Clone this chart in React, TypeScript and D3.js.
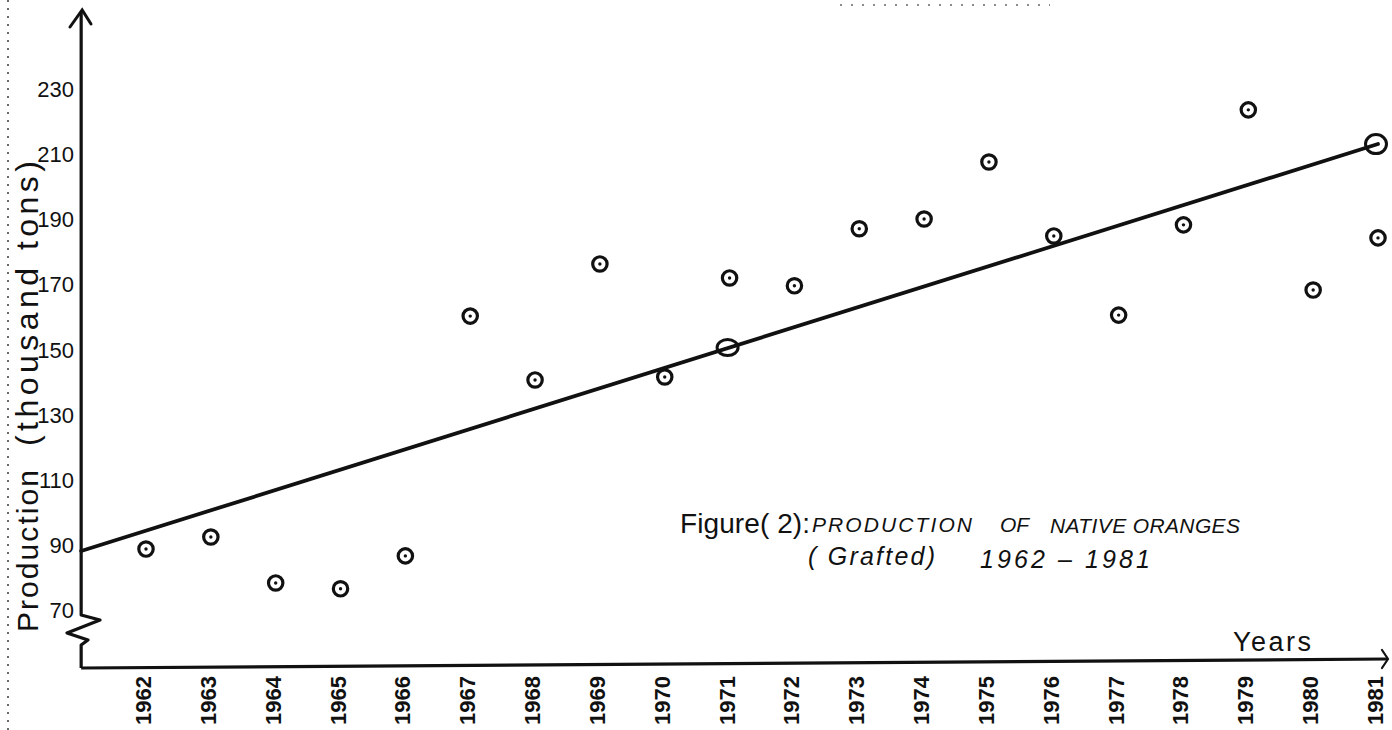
import React from 'react';
import * as d3 from 'd3';

// production of native oranges (grafted), thousand tons
const years = [1962, 1963, 1964, 1965, 1966, 1967, 1968, 1969, 1970, 1971,
  1972, 1973, 1974, 1975, 1976, 1977, 1978, 1979, 1980, 1981];
const production = [88.8, 92.5, 78.4, 76.6, 86.7, 160.3, 140.7, 176.3, 141.6, 172.0,
  169.6, 187.1, 190.1, 207.6, 184.9, 160.6, 188.3, 223.6, 168.3, 184.3];
const yTicks = [70, 90, 110, 130, 150, 170, 190, 210, 230];

// fitted trend line and the two points marked on it
const trendYears = [1961, 1981];
const trendValues = [88.2, 213.1];
const markedYears = [1971, 1981];

const W = 1392, H = 730;
const ink = '#111';
const hand = '"Liberation Sans", "DejaVu Sans", sans-serif';

export default function App() {
  const x = d3.scaleLinear().domain([1962, 1981]).range([146, 1378]);
  const y = d3.scaleLinear().domain([70, 230]).range([610.3, 89]);

  const trendAt = (yr: number) =>
    trendValues[0] + (trendValues[1] - trendValues[0]) * (yr - trendYears[0]) / (trendYears[1] - trendYears[0]);

  const trendLine = d3.line<number>()
    .x(d => x(d))
    .y((d, i) => y(trendValues[i]))(trendYears) as string;

  const x0 = x(trendYears[0]);
  const axisBottom = 668;

  return (
    <svg width={W} height={H} style={{ position: 'absolute', left: 0, top: 0, background: '#fff' }}>
      <rect width={W} height={H} fill="#fff" />

      {/* page edge, photocopy dots */}
      <line x1={8} y1={0} x2={8} y2={H} stroke="#444" strokeWidth={1.6} strokeDasharray="2 6" />
      <line x1={840} y1={5} x2={1050} y2={5} stroke="#666" strokeWidth={1.4} strokeDasharray="2 9" />

      {/* y axis with arrow and break */}
      <path
        d={`M${x0},12 L${x0},615 L100,620 L67,633 L88,640 L${x0},645 L${x0},${axisBottom}`}
        fill="none" stroke={ink} strokeWidth={3.2} strokeLinejoin="round" />
      <path d={`M70,27 L${x0 + 1},10 L91,24`} fill="none" stroke={ink} strokeWidth={3} strokeLinecap="round" />

      {/* x axis with arrow */}
      <path d={`M${x0},${axisBottom} L1387,659`} fill="none" stroke={ink} strokeWidth={3.2} />
      <path d="M1382,650 L1388,659 L1382,668" fill="none" stroke={ink} strokeWidth={2.2} strokeLinecap="round" />

      {/* y tick labels */}
      {yTicks.map(t => (
        <text key={t} x={74} y={y(t) + 8} textAnchor="end" fontFamily={hand} fontSize={22} fill={ink}>{t}</text>
      ))}

      {/* year labels */}
      {years.map(yr => (
        <text key={yr} transform={`translate(${x(yr) + 5},676) rotate(-90)`} textAnchor="end"
          fontFamily={hand} fontSize={22} fontWeight={700} fill={ink}>{yr}</text>
      ))}

      {/* axis titles */}
      <text transform="translate(38,632) rotate(-90)" fontFamily={hand} fontSize={30} fill={ink}
        textLength={162} lengthAdjust="spacing">Production</text>
      <text transform="translate(38,446) rotate(-90)" fontFamily={hand} fontSize={32} fill={ink}
        textLength={285} lengthAdjust="spacing">(thousand tons)</text>
      <text x={1233} y={651} fontFamily={hand} fontSize={27} fill={ink} textLength={78} lengthAdjust="spacing">Years</text>

      {/* title */}
      <text x={680} y={533} fontFamily={hand} fontSize={28} fill={ink} textLength={130} lengthAdjust="spacing">Figure( 2):</text>
      <text x={812} y={532} fontFamily={hand} fontSize={21} fontStyle="italic" fill={ink} textLength={160} lengthAdjust="spacing">PRODUCTION</text>
      <text x={1000} y={532} fontFamily={hand} fontSize={21} fontStyle="italic" fill={ink}>OF</text>
      <text x={1050} y={533} fontFamily={hand} fontSize={21} fontStyle="italic" fill={ink} textLength={190} lengthAdjust="spacing">NATIVE ORANGES</text>
      <text x={808} y={565} fontFamily={hand} fontSize={25} fontStyle="italic" fill={ink} textLength={127} lengthAdjust="spacing">( Grafted)</text>
      <text x={980} y={568} fontFamily={hand} fontSize={25} fontStyle="italic" fill={ink} textLength={170} lengthAdjust="spacing">1962 – 1981</text>

      {/* trend line */}
      <path d={trendLine} fill="none" stroke={ink} strokeWidth={3.8} strokeLinecap="round" />
      {markedYears.map(yr => (
        <ellipse key={yr} cx={x(yr) - 2} cy={y(trendAt(yr))} rx={10.5} ry={yr === 1971 ? 8 : 9.5}
          fill="none" stroke={ink} strokeWidth={3} />
      ))}

      {/* observed points */}
      {years.map((yr, i) => (
        <g key={yr} transform={`translate(${x(yr)},${y(production[i])})`}>
          <circle r={7.2} fill="#fff" stroke={ink} strokeWidth={3.2} />
          <circle r={1.7} fill={ink} />
        </g>
      ))}
    </svg>
  );
}
